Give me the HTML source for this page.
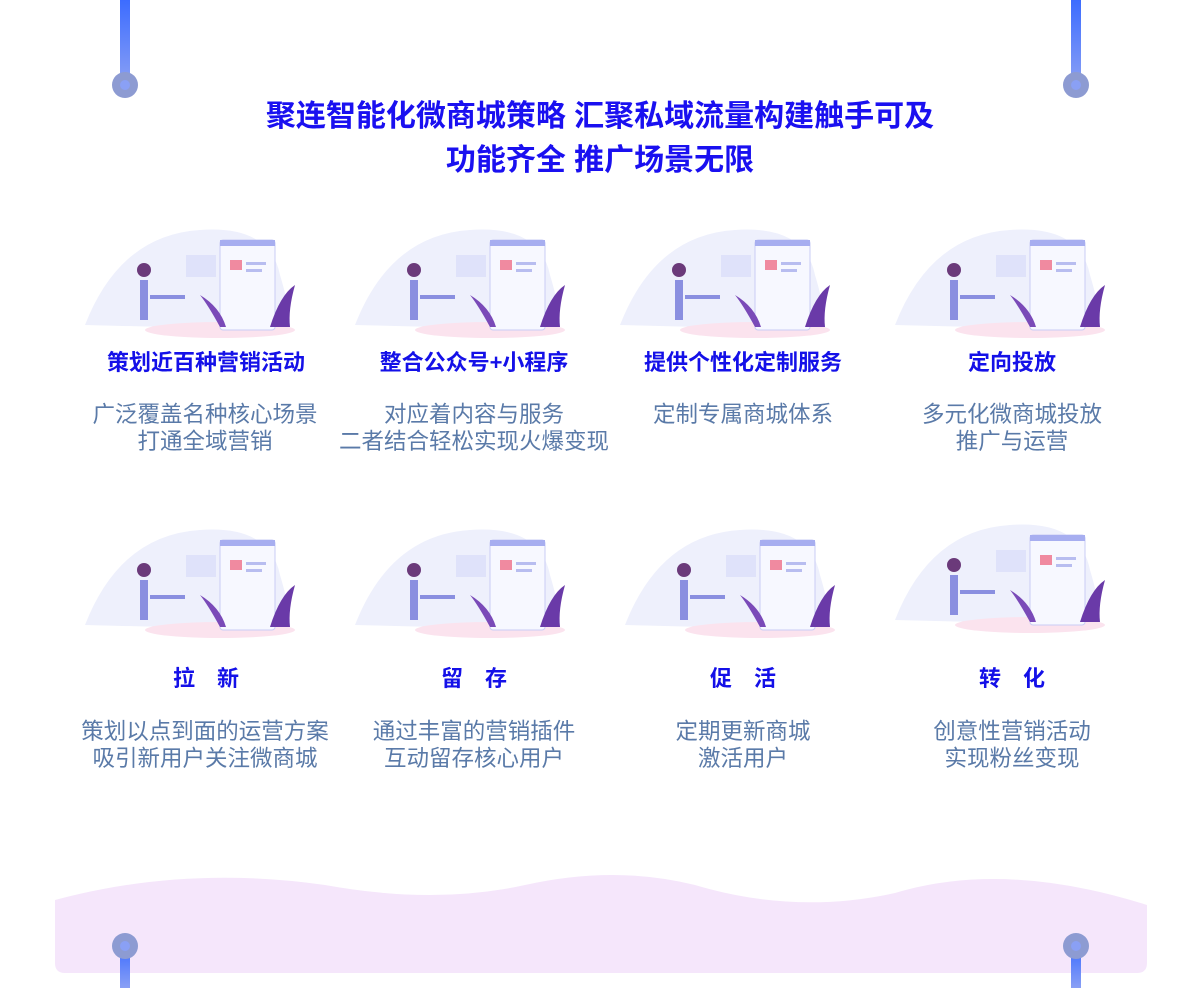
<!DOCTYPE html>
<html><head><meta charset="utf-8"><style>
*{margin:0;padding:0;box-sizing:border-box}
body{width:1200px;height:988px;background:#fff;position:relative;overflow:hidden;font-family:"Liberation Sans","Noto Sans CJK SC",sans-serif}
.bar{position:absolute;width:10px;background:linear-gradient(#3c6cff,#8aa0f5)}
.dot{position:absolute;width:26px;height:26px;border-radius:50%;background:#8d9bd2}
.dot i{position:absolute;left:8px;top:8px;width:10px;height:10px;border-radius:50%;background:#8aa0f5}
.title{position:absolute;left:0;width:1200px;text-align:center;color:#1a10f0;font-weight:bold;font-size:30px;line-height:44px;top:95px}
.h{position:absolute;width:300px;text-align:center;color:#1410e8;font-weight:bold;font-size:22px;line-height:26px}
.d{position:absolute;width:320px;text-align:center;color:#5a7aa8;font-size:22.5px;line-height:27px}
svg.il{position:absolute}
</style></head><body>
<div class="bar" style="left:120px;top:0;height:85px"></div>
<div class="dot" style="left:112px;top:72px"><i></i></div>
<div class="bar" style="left:1071px;top:0;height:85px"></div>
<div class="dot" style="left:1063px;top:72px"><i></i></div>
<div class="title">聚连智能化微商城策略 汇聚私域流量构建触手可及<br>功能齐全 推广场景无限</div>

<svg class="il" style="left:80px;top:210px" width="1040" height="440" viewBox="0 0 1040 440">
<defs><g id="il">
<path d="M5 110 Q40 20 120 15 Q190 10 200 60 Q215 110 205 115 Z" fill="#eef0fc"/>
<ellipse cx="140" cy="115" rx="75" ry="8" fill="#fbe3ee"/>
<rect x="140" y="25" width="55" height="90" rx="3" fill="#f7f8ff" stroke="#c9cdf5"/>
<rect x="140" y="25" width="55" height="6" fill="#a7aef0"/>
<rect x="150" y="45" width="12" height="10" fill="#f08aa0"/>
<rect x="166" y="47" width="20" height="3" fill="#b8bdf0"/><rect x="166" y="54" width="16" height="3" fill="#b8bdf0"/>
<rect x="106" y="40" width="30" height="22" fill="#dfe2fa"/>
<path d="M190 112 Q200 80 215 70 Q208 95 210 112Z" fill="#6a3aa8"/>
<path d="M140 112 Q128 90 120 80 Q140 92 146 112Z" fill="#7a4ab8"/>
<rect x="60" y="65" width="8" height="40" fill="#8a8fe0"/><circle cx="64" cy="55" r="7" fill="#6b3a7a"/>
<rect x="70" y="80" width="35" height="4" fill="#8a8fe0"/>
</g></defs>
<use href="#il" x="0" y="5"/>
<use href="#il" x="270" y="5"/>
<use href="#il" x="535" y="5"/>
<use href="#il" x="810" y="5"/>
<use href="#il" x="0" y="305"/>
<use href="#il" x="270" y="305"/>
<use href="#il" x="540" y="305"/>
<use href="#il" x="810" y="300"/>
</svg>

<div class="h" style="left:56px;top:350px">策划近百种营销活动</div>
<div class="h" style="left:324px;top:350px">整合公众号+小程序</div>
<div class="h" style="left:593px;top:350px">提供个性化定制服务</div>
<div class="h" style="left:862px;top:350px">定向投放</div>
<div class="d" style="left:45px;top:401px">广泛覆盖名种核心场景<br>打通全域营销</div>
<div class="d" style="left:314px;top:401px">对应着内容与服务<br>二者结合轻松实现火爆变现</div>
<div class="d" style="left:583px;top:401px">定制专属商城体系</div>
<div class="d" style="left:852px;top:401px">多元化微商城投放<br>推广与运营</div>

<div class="h" style="left:56px;top:666px">拉　新</div>
<div class="h" style="left:324px;top:666px">留　存</div>
<div class="h" style="left:593px;top:666px">促　活</div>
<div class="h" style="left:862px;top:666px">转　化</div>
<div class="d" style="left:45px;top:718px">策划以点到面的运营方案<br>吸引新用户关注微商城</div>
<div class="d" style="left:314px;top:718px">通过丰富的营销插件<br>互动留存核心用户</div>
<div class="d" style="left:583px;top:718px">定期更新商城<br>激活用户</div>
<div class="d" style="left:852px;top:718px">创意性营销活动<br>实现粉丝变现</div>

<svg class="il" style="left:55px;top:865px" width="1092" height="108" viewBox="0 0 1092 108">
<path d="M0 35 Q130 0 270 20 Q380 40 470 20 Q560 0 640 20 Q740 50 840 28 Q950 -5 1092 40 L1092 98 Q1092 108 1082 108 L10 108 Q0 108 0 98Z" fill="#f5e6fb"/>
</svg>
<div class="bar" style="left:120px;top:946px;height:42px"></div>
<div class="dot" style="left:112px;top:933px"><i></i></div>
<div class="bar" style="left:1071px;top:946px;height:42px"></div>
<div class="dot" style="left:1063px;top:933px"><i></i></div>
</body></html>
